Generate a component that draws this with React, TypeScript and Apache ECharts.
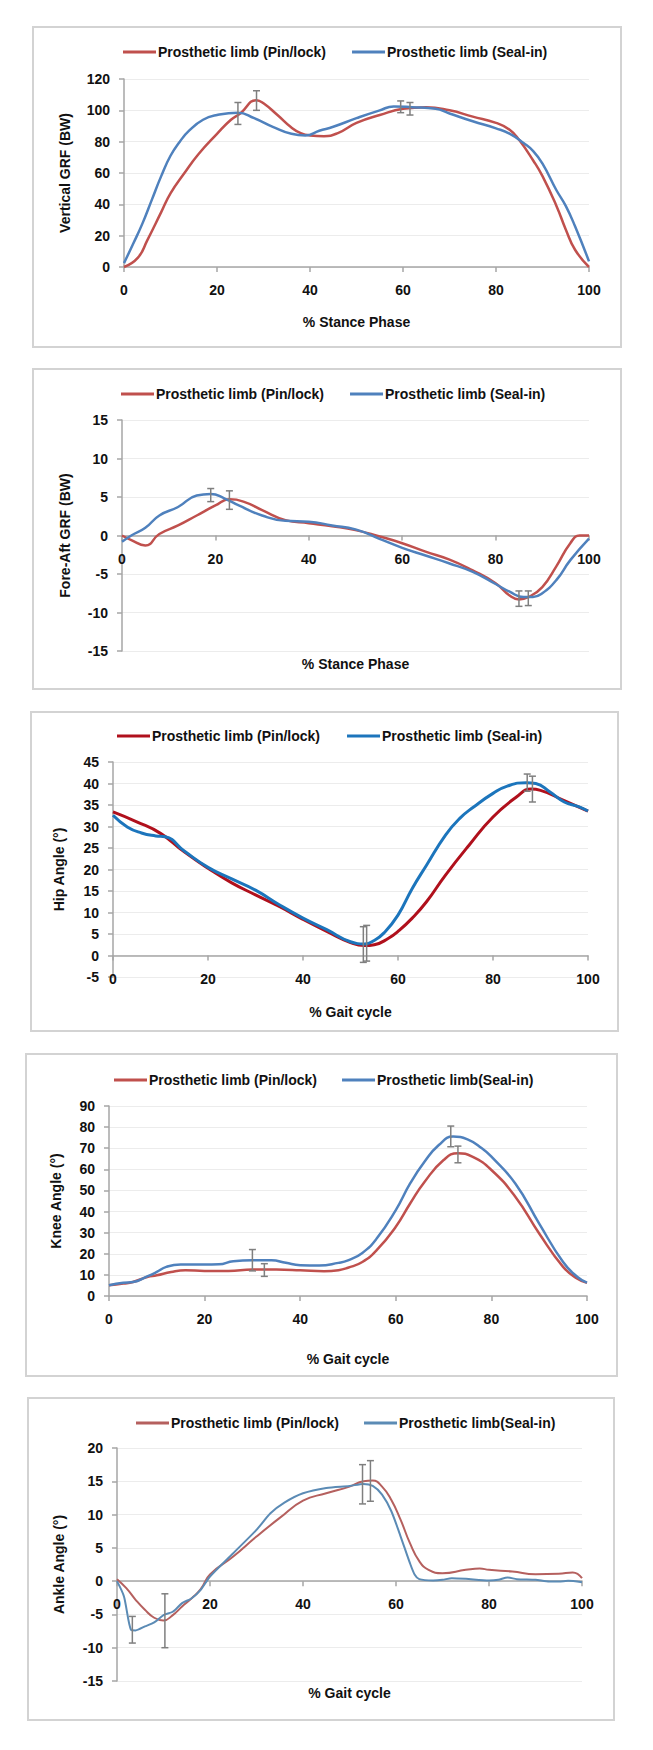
import React, { useEffect, useRef } from "react";
import * as echarts from "echarts";

const FONT = "'Liberation Sans', Arial, Helvetica, sans-serif";

// ---------- Panel 1: Vertical GRF ----------
const vgrfPinX = [0, 3, 5, 8, 10, 13, 16, 20, 23, 25, 28.5, 30, 33, 36, 38, 40, 43, 46, 50, 55, 60, 65, 70, 75, 80, 83, 85, 88, 90, 93, 95, 97, 100];
const vgrfPinY = [0, 6, 17, 35, 47, 60, 72, 85, 94, 98, 106.5, 104.5, 97, 89, 85.5, 84, 83.5, 85.5, 92, 97, 101, 102, 100, 96, 92, 87.5, 81, 68, 58, 39, 24, 11, 0];
const vgrfSealX = [0, 2, 4, 6, 8, 10, 12, 14, 17, 20, 24.5, 28, 32, 36, 39, 42, 45, 50, 55, 58, 62, 67, 70, 75, 80, 83, 86, 88, 90, 93, 95, 97, 100];
const vgrfSealY = [2.5, 15, 28, 43, 58, 71, 80, 87, 94, 97, 98.5, 95, 89.5, 85, 84, 87, 89.5, 95, 100, 102.5, 102, 101, 98, 93, 88.5, 85, 79, 74, 66, 49, 39, 26, 3.6];
const vgrfErr = [[28.5, 100, 112.5], [24.5, 91, 105], [59.5, 98.5, 106], [61.5, 97, 105]];

// ---------- Panel 2: Fore-Aft GRF ----------
const faPinX = [0, 2, 5, 8, 12, 16, 20, 23, 26, 30, 35, 40, 45, 50, 55, 60, 65, 70, 75, 80, 83, 85, 87, 90, 93, 96, 98, 100];
const faPinY = [0, -0.6, -1.3, 0.2, 1.3, 2.6, 3.9, 4.7, 4.4, 3.3, 2.0, 1.6, 1.2, 0.7, -0.1, -1.0, -2.1, -3.1, -4.5, -6.2, -7.8, -8.3, -8.0, -6.7, -4.0, -1.0, 0, 0];
const faSealX = [0, 2, 5, 8, 12, 16, 19, 22, 25, 30, 35, 40, 45, 50, 55, 60, 65, 70, 75, 80, 83, 86, 88, 90, 93, 96, 100];
const faSealY = [-0.8, 0, 1.0, 2.6, 3.7, 5.2, 5.4, 4.8, 3.9, 2.6, 1.9, 1.8, 1.3, 0.8, -0.4, -1.6, -2.6, -3.6, -4.7, -6.3, -7.3, -8.0, -8.0, -7.5, -5.8, -3.2, -0.4];
const faErr = [[19, 4.4, 6.1], [23, 3.4, 5.8], [85, -9.2, -7.2], [87, -9.1, -7.2]];

// ---------- Panel 3: Hip angle ----------
const hipPinX = [0, 5, 10, 15, 20, 25, 30, 35, 40, 45, 50, 53, 55, 58, 60, 63, 66, 70, 75, 80, 85, 88, 90, 95, 100];
const hipPinY = [33.4, 31.1, 28.4, 24.1, 20.3, 16.9, 14.1, 11.4, 8.4, 5.6, 3.0, 2.3, 2.5, 4.0, 5.6, 8.7, 12.5, 18.7, 25.7, 32.2, 36.9, 38.7, 38.4, 36, 33.6];
const hipSealX = [0, 3, 6, 9, 11, 15, 20, 25, 30, 35, 40, 45, 50, 53, 55, 57, 60, 63, 66, 70, 73, 76, 80, 83, 87, 89, 92, 95, 98, 100];
const hipSealY = [32.6, 29.9, 28.5, 27.8, 27.6, 24.3, 20.5, 17.8, 15.2, 11.8, 8.7, 6.0, 3.2, 2.7, 3.5, 5.2, 9.4, 15.6, 21, 28, 31.9, 34.6, 37.7, 39.4, 40.2, 40, 38, 35.7, 34.6, 33.6];
const hipErr = [[52.7, -1.6, 6.7], [53.4, -1.3, 7.0], [87.2, 38.2, 42.2], [88.3, 35.7, 41.7]];

// ---------- Panel 4: Knee angle ----------
const kneePinX = [0, 3, 5, 8, 10, 13, 16, 20, 25, 30, 35, 40, 45, 48, 50, 53, 56, 60, 63, 66, 70, 73, 76, 80, 85, 90, 95, 98, 100];
const kneePinY = [5.1, 5.9, 6.6, 9, 9.8, 11.4, 12.2, 11.9, 11.9, 12.5, 12.5, 12.2, 11.7, 12.2, 13.4, 16.1, 21.7, 32.8, 43.8, 54, 64.4, 67.6, 66, 59.7, 47, 29.6, 13.8, 8.2, 6.2];
const kneeSealX = [0, 3, 5, 8, 10, 12, 15, 20, 23, 26, 30, 34, 37, 40, 44, 48, 50, 53, 56, 60, 63, 66, 69, 72, 75, 78, 80, 85, 90, 95, 98, 100];
const kneeSealY = [5.1, 6.3, 6.6, 9.3, 11.4, 13.8, 14.9, 14.9, 15, 16.5, 16.9, 16.9, 15.7, 14.6, 14.4, 15.7, 16.9, 20.4, 27.2, 40.7, 53.3, 63.6, 71.5, 75.5, 74.2, 70, 66, 53.3, 34.3, 16.1, 9, 6.3];
const kneeErr = [[30, 11.9, 22], [32.5, 9.3, 15.3], [71.5, 70.7, 80.5], [73, 63.1, 71]];

// ---------- Panel 5: Ankle angle ----------
const anklePinX = [0, 2, 4, 6, 8, 10, 12, 14, 16, 18, 20, 25, 30, 35, 40, 45, 50, 53, 55, 57, 59, 61, 63, 65, 67, 70, 75, 78, 80, 85, 90, 95, 98, 100];
const anklePinY = [0.3, -1.05, -2.8, -4.3, -5.5, -5.9, -5.1, -3.8, -2.6, -1.2, 1.0, 3.7, 6.7, 9.5, 12.1, 13.2, 14.2, 15, 15.1, 14.2, 12.2, 9.2, 5.7, 3.0, 1.7, 1.2, 1.7, 1.9, 1.7, 1.45, 1.05, 1.1, 1.3, 0.45];
const ankleSealX = [0, 1.5, 3, 4, 6, 8, 10, 12, 14, 16, 18, 20, 25, 30, 33, 36, 40, 45, 50, 53, 55, 57, 59, 61, 63, 64, 65, 68, 70, 72, 75, 80, 82, 84, 86, 90, 93, 95, 97, 100];
const ankleSealY = [0, -2.3, -7.3, -7.4, -6.8, -6.2, -5.1, -4.6, -3.3, -2.6, -1.3, 0.7, 4.2, 7.7, 10.2, 11.8, 13.2, 14, 14.3, 14.6, 14.3, 13, 10.5, 6.7, 2.7, 1, 0.3, 0.1, 0.2, 0.45, 0.35, 0.1, 0.2, 0.55, 0.3, 0.2, -0.05, -0.05, 0.05, -0.15];
const ankleErr = [[3.3, -9.3, -5.3], [10.3, -10, -1.9], [52.8, 11.6, 17.5], [54.5, 12, 18.1]];

const xTicks = { min: 0, max: 100, interval: 20 };

const zip = (xs: number[], ys: number[]) => xs.map((x, i) => [x, ys[i]]);

type Panel = {
  box: [number, number, number, number];
  grid: { left: number; right: number; top: number; bottom: number };
  y: [number, number, number];
  yName: string;
  xName: string;
  yGap: number;
  xGap: number;
  legendLeft: number;
  legendTop: number;
  legendGap: number;
  names: [string, string];
  colors: [string, string];
  width: number;
  pin: number[][];
  seal: number[][];
  err: number[][];
  smoothSeal: number;
};

const PANELS: Panel[] = [
  {
    box: [32, 26, 590, 322], grid: { left: 92, right: 33, top: 53, bottom: 81 },
    y: [0, 120, 20], yName: "Vertical GRF (BW)", xName: "% Stance Phase", yGap: 52, xGap: 48,
    legendLeft: 86, legendTop: 14, legendGap: 26,
    names: ["Prosthetic limb (Pin/lock)", "Prosthetic limb (Seal-in)"],
    colors: ["#C0504D", "#4F81BD"], width: 2.5,
    pin: zip(vgrfPinX, vgrfPinY), seal: zip(vgrfSealX, vgrfSealY), err: vgrfErr, smoothSeal: 0.5,
  },
  {
    box: [32, 368, 590, 322], grid: { left: 90, right: 33, top: 52, bottom: 39 },
    y: [-15, 15, 5], yName: "Fore-Aft GRF (BW)", xName: "% Stance Phase", yGap: 50, xGap: 121,
    legendLeft: 84, legendTop: 14, legendGap: 26,
    names: ["Prosthetic limb (Pin/lock)", "Prosthetic limb (Seal-in)"],
    colors: ["#C0504D", "#4F81BD"], width: 2.5,
    pin: zip(faPinX, faPinY), seal: zip(faSealX, faSealY), err: faErr, smoothSeal: 0.5,
  },
  {
    box: [30, 711, 589, 321], grid: { left: 83, right: 31, top: 51, bottom: 55 },
    y: [-5, 45, 5], yName: "Hip Angle (°)", xName: "% Gait cycle", yGap: 47, xGap: 49,
    legendLeft: 82, legendTop: 13, legendGap: 27,
    names: ["Prosthetic limb (Pin/lock)", "Prosthetic limb (Seal-in)"],
    colors: ["#B0101C", "#1C75BC"], width: 3,
    pin: zip(hipPinX, hipPinY), seal: zip(hipSealX, hipSealY), err: hipErr, smoothSeal: 0.5,
  },
  {
    box: [25, 1053, 593, 324], grid: { left: 84, right: 31, top: 53, bottom: 81 },
    y: [0, 90, 10], yName: "Knee Angle (°)", xName: "% Gait cycle", yGap: 46, xGap: 56,
    legendLeft: 84, legendTop: 15, legendGap: 25,
    names: ["Prosthetic limb (Pin/lock)", "Prosthetic limb(Seal-in)"],
    colors: ["#C0504D", "#4F81BD"], width: 2.5,
    pin: zip(kneePinX, kneePinY), seal: zip(kneeSealX, kneeSealY), err: kneeErr, smoothSeal: 0.5,
  },
  {
    box: [27, 1397, 588, 324], grid: { left: 90, right: 33, top: 51, bottom: 40 },
    y: [-15, 20, 5], yName: "Ankle Angle (°)", xName: "% Gait cycle", yGap: 51, xGap: 105,
    legendLeft: 104, legendTop: 14, legendGap: 25,
    names: ["Prosthetic limb (Pin/lock)", "Prosthetic limb(Seal-in)"],
    colors: ["#B5605E", "#5B8BB5"], width: 2,
    pin: zip(anklePinX, anklePinY), seal: zip(ankleSealX, ankleSealY), err: ankleErr, smoothSeal: 0.25,
  },
];

const AXIS_COLOR = "#A6A6A6";
const TEXT_COLOR = "#111111";

function buildOption(p: Panel) {
  const txt = { fontFamily: FONT, fontWeight: "bold" as const, fontSize: 14, color: TEXT_COLOR };
  // place the x axis (line, ticks, labels, name) on the y = 0 line
  const plotH = p.box[3] - p.grid.top - p.grid.bottom;
  const zeroFromBottom = p.y[0] < 0 ? ((0 - p.y[0]) / (p.y[1] - p.y[0])) * plotH : 0;
  return {
    animation: false,
    backgroundColor: "transparent",
    legend: {
      left: p.legendLeft,
      top: p.legendTop,
      icon: "rect",
      itemWidth: 33,
      itemHeight: 3,
      itemGap: p.legendGap,
      data: [p.names[0], p.names[1]],
      textStyle: { ...txt, padding: [0, 0, 0, -3] },
    },
    grid: { ...p.grid, containLabel: false, outerBoundsMode: "none" },
    xAxis: {
      type: "value",
      ...xTicks,
      position: "bottom",
      offset: -zeroFromBottom,
      name: p.xName,
      nameLocation: "middle",
      nameGap: p.xGap,
      nameTextStyle: txt,
      axisLine: { show: true, onZero: false, lineStyle: { color: AXIS_COLOR, width: 1.5 } },
      axisTick: { show: true, length: 5, lineStyle: { color: AXIS_COLOR, width: 1.5 } },
      axisLabel: { ...txt, margin: 16 },
      splitLine: { show: false },
    },
    yAxis: {
      type: "value",
      min: p.y[0],
      max: p.y[1],
      interval: p.y[2],
      name: p.yName,
      nameLocation: "middle",
      nameGap: p.yGap,
      nameTextStyle: txt,
      axisLine: { show: true, onZero: false, lineStyle: { color: AXIS_COLOR, width: 1.5 } },
      axisTick: { show: true, length: 5, lineStyle: { color: AXIS_COLOR, width: 1.5 } },
      axisLabel: { ...txt, margin: 14 },
      splitLine: { show: true, lineStyle: { color: "#ECECEC", width: 1 } },
    },
    series: [
      {
        name: p.names[0],
        type: "line",
        data: p.pin,
        smooth: 0.5,
        showSymbol: false,
        symbol: "none",
        color: p.colors[0],
        lineStyle: { color: p.colors[0], width: p.width },
        z: 3,
      },
      {
        name: p.names[1],
        type: "line",
        data: p.seal,
        smooth: p.smoothSeal,
        showSymbol: false,
        symbol: "none",
        color: p.colors[1],
        lineStyle: { color: p.colors[1], width: p.width },
        z: 4,
      },
      {
        type: "custom",
        name: "err",
        data: p.err,
        encode: { x: 0, y: [1, 2] },
        z: 6,
        renderItem: (_params: any, api: any) => {
          const x = api.value(0);
          const lo = api.value(1);
          const hi = api.value(2);
          const a = api.coord([x, hi]);
          const b = api.coord([x, lo]);
          const w = 3.5;
          const style = { stroke: "#7F7F7F", lineWidth: 1.5 };
          return {
            type: "group",
            children: [
              { type: "line", shape: { x1: a[0], y1: a[1], x2: b[0], y2: b[1] }, style },
              { type: "line", shape: { x1: a[0] - w, y1: a[1], x2: a[0] + w, y2: a[1] }, style },
              { type: "line", shape: { x1: b[0] - w, y1: b[1], x2: b[0] + w, y2: b[1] }, style },
            ],
          };
        },
      },
    ],
  };
}

function ChartPanel({ p }: { p: Panel }) {
  const ref = useRef<HTMLDivElement>(null);
  useEffect(() => {
    if (!ref.current) return;
    const chart = echarts.init(ref.current, undefined, { renderer: "svg" });
    chart.setOption(buildOption(p) as any);
    return () => chart.dispose();
  }, [p]);
  const [l, t, w, h] = p.box;
  return (
    <>
      <div
        style={{
          position: "absolute",
          left: l,
          top: t,
          width: w,
          height: h,
          boxSizing: "border-box",
          border: "2px solid #D3D3D3",
          background: "#fff",
        }}
      />
      <div ref={ref} style={{ position: "absolute", left: l, top: t, width: w, height: h }} />
    </>
  );
}

export default function App() {
  return (
    <div
      style={{
        position: "absolute",
        left: 0,
        top: 0,
        width: 653,
        height: 1750,
        background: "#ffffff",
        overflow: "hidden",
      }}
    >
      {PANELS.map((p, i) => (
        <ChartPanel key={i} p={p} />
      ))}
    </div>
  );
}
